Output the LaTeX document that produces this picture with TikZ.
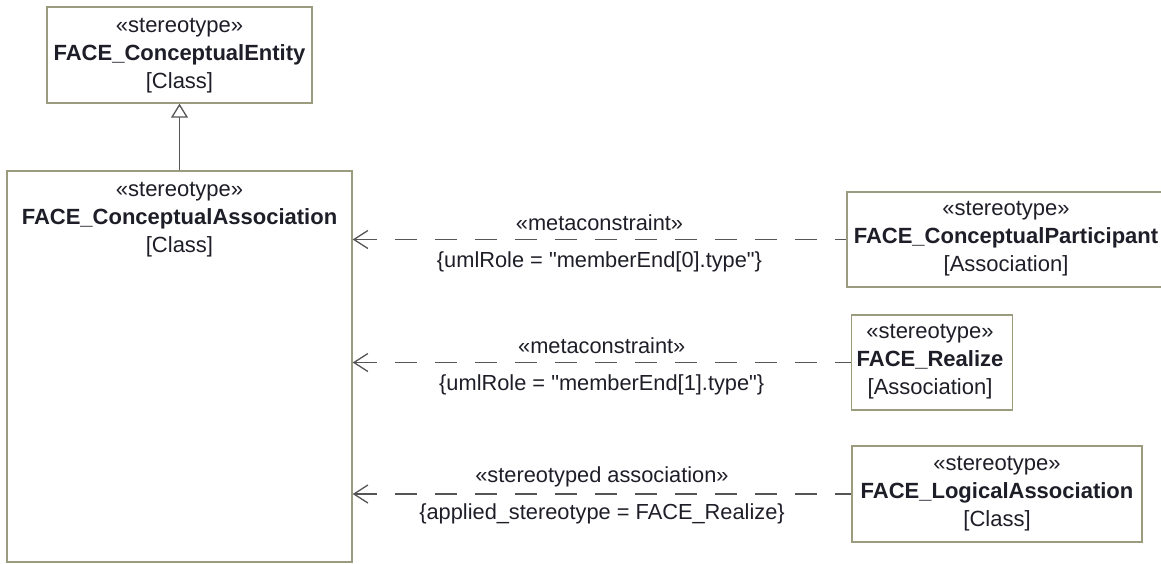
\documentclass[tikz,border=0pt]{standalone}
\usepackage{fontspec}
% plain family: no TeX mapping, so " stays a straight quote
\newfontfamily\umlfont{Liberation Sans}
\setmainfont{Liberation Sans}
\usetikzlibrary{arrows.meta,positioning}

\definecolor{boxline}{RGB}{155,155,125}
\definecolor{connline}{RGB}{85,85,85}
\definecolor{txt}{RGB}{30,30,40}

\tikzset{
  umlbox/.style={draw=boxline, line width=1.4pt, fill=white, rectangle, inner sep=0pt},
  boxtext/.style={align=center, text=txt, inner sep=0pt,
    font=\umlfont\fontsize{22}{28}\selectfont},
  lbl/.style={text=txt, inner sep=0pt, font=\umlfont\fontsize{21.8}{26}\selectfont},
  dep/.style={draw=connline, line width=1.3pt, dash pattern=on 22pt off 18pt,
    {Straight Barb[length=14pt,width=18pt,line width=1.3pt]}-},
  gen/.style={draw=connline, line width=1.3pt,
    -{Triangle[open,length=14pt,width=17pt,line width=1.3pt,fill=white]}},
}

\begin{document}
\begin{tikzpicture}[x=1pt,y=-1pt]
\useasboundingbox (0,0) rectangle (1161,563);
\clip (0,0) rectangle (1161,563);

% classes
\node[umlbox, minimum width=265pt, minimum height=96pt] (entity) at (179.5,55) {};
\node[boxtext] (entitytext) at (179.5,56)
  {«stereotype»\\ \textbf{FACE\_ConceptualEntity}\\ {[}Class{]}};

\node[umlbox, minimum width=345pt, minimum height=391pt] (assoc) at (179.5,366.5) {};
\node[boxtext] (assoctext) at (179.5,220)
  {«stereotype»\\ \textbf{FACE\_ConceptualAssociation}\\ {[}Class{]}};

\node[umlbox, minimum width=318pt, minimum height=95pt] (part) at (1006,239.5) {};
\node[boxtext] (parttext) at (1006,239)
  {«stereotype»\\ \textbf{FACE\_ConceptualParticipant}\\ {[}Association{]}};

\node[umlbox, minimum width=161pt, minimum height=95pt] (realize) at (932,362.5) {};
\node[boxtext] (realizetext) at (930,362)
  {«stereotype»\\ \textbf{FACE\_Realize}\\ {[}Association{]}};

\node[umlbox, minimum width=290pt, minimum height=96pt] (logical) at (997,494) {};
\node[boxtext] (logicaltext) at (997,493.5)
  {«stereotype»\\ \textbf{FACE\_LogicalAssociation}\\ {[}Class{]}};

% generalization
\draw[gen] (assoc.north) -- (entity.south);

% dependencies
\draw[dep] (assoc.east |- part.west) -- (part.west)
  node[lbl, midway, yshift=17pt] (m1) {«metaconstraint»}
  node[lbl, midway, yshift=-22pt] (c1) {\{umlRole = "memberEnd[0].type"\}};

\draw[dep] (assoc.east |- realize.west) -- (realize.west)
  node[lbl, midway, yshift=17pt] (m2) {«metaconstraint»}
  node[lbl, midway, yshift=-22pt] (c2) {\{umlRole = "memberEnd[1].type"\}};

\draw[dep] (assoc.east |- logical.west) -- (logical.west)
  node[lbl, midway, yshift=17pt] (m3) {«stereotyped association»}
  node[lbl, midway, yshift=-20pt] (c3) {\{applied\_stereotype = FACE\_Realize\}};
\end{tikzpicture}
\end{document}
